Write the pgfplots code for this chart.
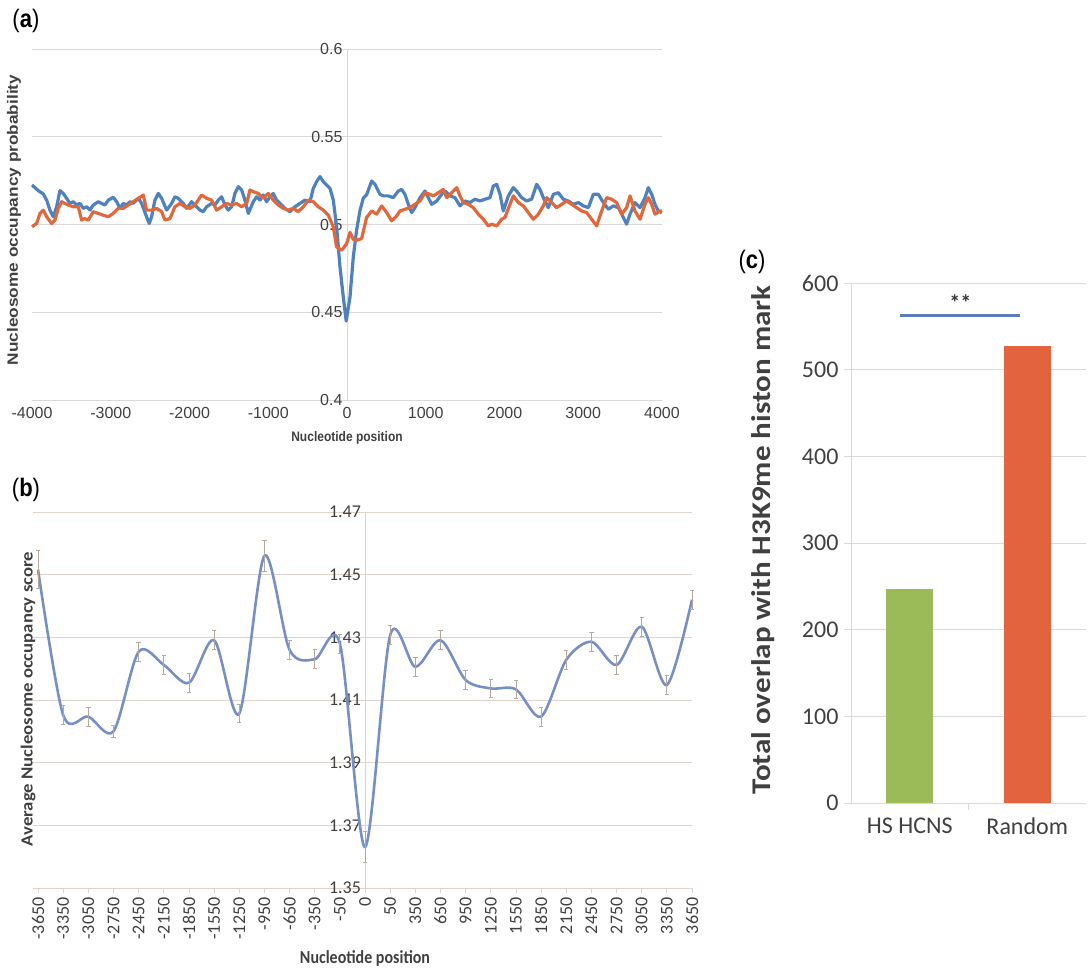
\documentclass[border=0pt]{standalone}
\usepackage{fontspec}
\setmainfont{Liberation Sans}
\newfontfamily\carlito{Carlito}
\usepackage{pgfplots}
\pgfplotsset{compat=1.18}
\usepackage{pgfplotstable}
\pgfplotsset{/pgf/number format/assume math mode=true}

\definecolor{gridc}{RGB}{217,217,217}
\definecolor{gridb}{RGB}{222,212,205}
\definecolor{tickc}{RGB}{64,64,64}
\definecolor{blueA}{RGB}{79,129,189}
\definecolor{orangeA}{RGB}{224,104,60}
\definecolor{blueB}{RGB}{118,143,196}
\definecolor{errc}{RGB}{180,168,158}
\definecolor{greenC}{RGB}{155,187,89}
\definecolor{orangeC}{RGB}{226,99,62}
\definecolor{sigc}{RGB}{91,125,180}

\pgfplotstableread{
x y
-4000 0.5225
-3920 0.5193
-3857 0.5174
-3814 0.5139
-3772 0.5082
-3730 0.5044
-3687 0.5101
-3645 0.5193
-3603 0.5177
-3560 0.5149
-3518 0.5120
-3476 0.5130
-3433 0.5111
-3391 0.5120
-3349 0.5092
-3306 0.5101
-3264 0.5082
-3222 0.5111
-3158 0.5130
-3116 0.5120
-3074 0.5111
-3031 0.5139
-2968 0.5155
-2925 0.5130
-2883 0.5092
-2841 0.5120
-2798 0.5111
-2756 0.5130
-2714 0.5120
-2650 0.5149
-2608 0.5120
-2545 0.5044
-2511 0.5006
-2481 0.5044
-2439 0.5139
-2396 0.5177
-2354 0.5149
-2290 0.5082
-2227 0.5120
-2185 0.5158
-2142 0.5149
-2079 0.5120
-2036 0.5092
-1973 0.5130
-1931 0.5111
-1867 0.5082
-1825 0.5073
-1783 0.5101
-1719 0.5120
-1677 0.5111
-1634 0.5139
-1592 0.5158
-1550 0.5111
-1507 0.5082
-1465 0.5101
-1423 0.5177
-1380 0.5216
-1338 0.5197
-1296 0.5139
-1253 0.5063
-1190 0.5130
-1148 0.5158
-1105 0.5139
-1063 0.5168
-1021 0.5130
-978 0.5158
-936 0.5177
-894 0.5139
-851 0.5120
-788 0.5092
-724 0.5073
-661 0.5101
-597 0.5120
-534 0.5139
-470 0.5130
-428 0.5206
-386 0.5244
-343 0.5273
-301 0.5244
-259 0.5225
-216 0.5206
-174 0.5139
-132 0.4987
-89 0.4758
-47 0.4586
-10 0.4450
38 0.4586
80 0.4815
122 0.4968
165 0.5080
207 0.5150
250 0.5170
313 0.5248
355 0.5229
419 0.5172
461 0.5163
525 0.5163
588 0.5153
652 0.5191
694 0.5200
736 0.5172
779 0.5115
821 0.5068
863 0.5096
927 0.5153
990 0.5191
1033 0.5153
1075 0.5115
1139 0.5134
1202 0.5172
1244 0.5191
1308 0.5163
1371 0.5153
1435 0.5106
1498 0.5134
1562 0.5125
1625 0.5144
1689 0.5134
1752 0.5144
1816 0.5153
1858 0.5219
1901 0.5229
1943 0.5172
1985 0.5077
2049 0.5163
2112 0.5210
2154 0.5191
2218 0.5153
2281 0.5134
2345 0.5144
2408 0.5229
2451 0.5200
2493 0.5153
2557 0.5096
2620 0.5172
2684 0.5181
2747 0.5144
2811 0.5134
2874 0.5115
2938 0.5125
3001 0.5106
3065 0.5096
3128 0.5172
3192 0.5172
3255 0.5125
3319 0.5087
3382 0.5106
3446 0.5096
3509 0.5040
3551 0.5002
3594 0.5059
3657 0.5125
3721 0.5096
3784 0.5153
3826 0.5210
3869 0.5172
3911 0.5115
3953 0.5077
4000 0.5068
}\blueAtab

\pgfplotstableread{
x y
-4000 0.4987
-3941 0.5006
-3899 0.5063
-3857 0.5082
-3814 0.5044
-3751 0.5006
-3709 0.5025
-3666 0.5092
-3624 0.5130
-3582 0.5120
-3539 0.5111
-3476 0.5101
-3412 0.5101
-3370 0.5025
-3328 0.5034
-3285 0.5025
-3222 0.5073
-3158 0.5063
-3095 0.5053
-3031 0.5044
-2968 0.5063
-2904 0.5092
-2841 0.5092
-2777 0.5111
-2714 0.5130
-2650 0.5149
-2587 0.5168
-2545 0.5082
-2481 0.5082
-2418 0.5092
-2354 0.5073
-2312 0.5025
-2248 0.5034
-2185 0.5101
-2121 0.5120
-2058 0.5101
-1994 0.5092
-1931 0.5111
-1846 0.5168
-1783 0.5149
-1719 0.5139
-1656 0.5082
-1592 0.5101
-1529 0.5120
-1465 0.5111
-1402 0.5120
-1338 0.5101
-1274 0.5120
-1232 0.5197
-1190 0.5187
-1127 0.5177
-1063 0.5149
-999 0.5177
-936 0.5139
-872 0.5111
-809 0.5092
-745 0.5082
-682 0.5092
-619 0.5073
-555 0.5101
-492 0.5139
-428 0.5130
-365 0.5101
-301 0.5082
-237 0.5053
-174 0.4987
-132 0.4872
-68 0.4853
-4 0.4891
38 0.4955
80 0.4915
122 0.4910
186 0.4920
249 0.5040
313 0.5077
377 0.5059
440 0.5106
504 0.5068
567 0.5021
631 0.5049
673 0.5077
736 0.5087
800 0.5096
863 0.5115
927 0.5134
990 0.5181
1054 0.5172
1096 0.5163
1160 0.5181
1223 0.5200
1266 0.5153
1329 0.5181
1393 0.5210
1435 0.5163
1477 0.5125
1541 0.5115
1604 0.5096
1668 0.5059
1731 0.5030
1795 0.4992
1837 0.5002
1901 0.4992
1964 0.5030
2006 0.5040
2070 0.5115
2112 0.5163
2176 0.5125
2239 0.5106
2303 0.5068
2366 0.5030
2430 0.5059
2493 0.5106
2536 0.5153
2599 0.5125
2662 0.5096
2726 0.5115
2789 0.5134
2853 0.5115
2916 0.5096
2980 0.5077
3043 0.5068
3107 0.5030
3170 0.4992
3234 0.5077
3297 0.5153
3361 0.5144
3424 0.5125
3488 0.5059
3551 0.5096
3594 0.5163
3657 0.5077
3721 0.5030
3784 0.5115
3826 0.5153
3869 0.5115
3911 0.5059
3975 0.5077
4000 0.5077
}\orangeAtab

\pgfplotstableread{
x y e
-13 1.4516 0.006
-12 1.4052 0.003
-11 1.4047 0.003
-10 1.4000 0.002
-9 1.4254 0.003
-8 1.4212 0.003
-7 1.4155 0.003
-6 1.4291 0.003
-5 1.4057 0.003
-4 1.4560 0.005
-3 1.4260 0.003
-2 1.4230 0.003
-1 1.4280 0.003
0 1.3631 0.005
1 1.4307 0.003
2 1.4206 0.003
3 1.4291 0.003
4 1.4164 0.003
5 1.4137 0.003
6 1.4134 0.003
7 1.4047 0.003
8 1.4228 0.003
9 1.4286 0.003
10 1.4212 0.003
11 1.4334 0.003
12 1.4148 0.003
13 1.4420 0.003
}\bTab

\begin{document}
\begin{tikzpicture}
\useasboundingbox (0pt,0pt) rectangle (1090pt,-969pt);

% ---------------- panel (a)
\begin{axis}[
  at={(32pt,-400pt)}, anchor=south west, scale only axis,
  width=630pt, height=351pt,
  xmin=-4000, xmax=4000, ymin=0.4, ymax=0.6,
  axis x line=bottom, axis y line=middle,
  axis line style={draw=gridc, line width=0.8pt, -},
  hide obscured x ticks=false, hide obscured y ticks=false,
  xtick={-4000,-3000,-2000,-1000,0,1000,2000,3000,4000},
  ytick={0.4,0.45,0.5,0.55,0.6},
  yticklabels={0.4,0.45,0.5,0.55,0.6},
  ymajorgrids, grid style={draw=gridc, line width=0.8pt},
  major tick length=0pt,
  /pgf/number format/1000 sep={},
  tick label style={font=\fontsize{16}{16}\selectfont, text=tickc},
  xticklabel style={yshift=-4pt},
  yticklabel style={xshift=-1pt},
  clip=false,
]
\addplot[blueA, line width=3.2pt, line join=round] table[x=x,y=y]{\blueAtab};
\addplot[orangeA, line width=3.2pt, line join=round] table[x=x,y=y]{\orangeAtab};
\end{axis}

% ---------------- panel (b)
\begin{axis}[
  at={(33pt,-888pt)}, anchor=south west, scale only axis,
  width=659pt, height=376pt,
  xmin=-13.2, xmax=13.0, ymin=1.35, ymax=1.47,
  axis x line=bottom, axis y line=middle,
  axis line style={draw=gridb, line width=0.8pt, -},
  hide obscured x ticks=false, hide obscured y ticks=false,
  xtick={-13,-12,...,13},
  xticklabels={-3650,-3350,-3050,-2750,-2450,-2150,-1850,-1550,-1250,-950,-650,-350,-50,0,50,350,650,950,1250,1550,1850,2150,2450,2750,3050,3350,3650},
  ytick={1.35,1.37,1.39,1.41,1.43,1.45,1.47},
  yticklabels={1.35,1.37,1.39,1.41,1.43,1.45,1.47},
  ymajorgrids, grid style={draw=gridb, line width=0.8pt},
  xtick align=outside,
  major tick length=5pt,
  ytick style={draw=none},
  xtick style={draw=gridb, line width=0.8pt},
  tick label style={font=\carlito\fontsize{18}{18}\selectfont, text=tickc},
  xticklabel style={rotate=90, anchor=east, xshift=-1pt},
  yticklabel style={xshift=2pt},
  clip=false,
]
\addplot[blueB, line width=2.6pt, smooth, tension=0.5,
  error bars/.cd, y dir=both, y explicit,
  error bar style={errc, line width=0.8pt},
  error mark options={errc, rotate=90, mark size=2.2pt, line width=0.8pt}]
  table[x=x, y=y, y error=e]{\bTab};
\end{axis}

% ---------------- panel (c)
\begin{axis}[
  at={(851pt,-803pt)}, anchor=south west, scale only axis,
  width=235pt, height=520pt,
  xmin=0.5, xmax=2.5, ymin=0, ymax=600,
  axis x line=bottom, axis y line=left,
  axis line style={draw=gridc, line width=0.9pt, -},
  xtick={1,2}, xticklabels={HS HCNS, Random},
  ytick={0,100,200,300,400,500,600},
  ymajorgrids, grid style={draw=gridc, line width=0.9pt},
  xtick style={draw=none},
  ytick align=outside, ytick style={draw=gridc, line width=0.9pt},
  major tick length=7pt,
  tick label style={font=\carlito\fontsize{24}{24}\selectfont, text=tickc},
  yticklabel style={xshift=-2pt},
  xticklabel style={yshift=-8pt},
  clip=false,
]
\addplot[ybar, bar width=47pt, bar shift=0pt, fill=greenC, draw=none] coordinates {(1,247)};
\addplot[ybar, bar width=47pt, bar shift=0pt, fill=orangeC, draw=none] coordinates {(2,527)};
\addplot[sharp plot, sigc, line width=3pt] coordinates {(0.92,562) (1.94,562)};
\node[font=\carlito\bfseries\fontsize{22}{22}\selectfont, text=black!80] at (axis cs:1.43,577) {**};
\draw[gridc, line width=0.9pt] (axis cs:1.5,0) -- ([yshift=-7pt]axis cs:1.5,0);
\end{axis}

% ---------------- labels
\node at (26pt,-21pt) {\scalebox{1}[1.15]{\fontsize{22}{22}\selectfont (\textbf{a})}};
\node at (26pt,-490pt) {\scalebox{1}[1.15]{\fontsize{22}{22}\selectfont (\textbf{b})}};
\node at (752pt,-262pt) {\scalebox{1}[1.15]{\fontsize{22}{22}\selectfont (\textbf{c})}};

\node[rotate=90, text=tickc] at (14pt,-220pt) {\scalebox{1.15}[1]{\fontsize{15}{15}\selectfont\bfseries Nucleosome occupancy probability}};
\node[text=tickc] at (347pt,-438pt) {\scalebox{1}[1.15]{\fontsize{12}{12}\selectfont\bfseries Nucleotide position}};

\node[rotate=90, text=tickc] at (28pt,-699pt) {\scalebox{1.1}[1]{\carlito\fontsize{17}{17}\selectfont\bfseries Average Nucleosome occupancy score}};
\node[text=tickc] at (365pt,-958pt) {\scalebox{1}[1.15]{\carlito\fontsize{16}{16}\selectfont\bfseries Nucleotide position}};

\node[rotate=90, text=tickc] at (763pt,-540pt) {\scalebox{1.15}[1]{\carlito\fontsize{27}{27}\selectfont\bfseries Total overlap with H3K9me histon mark}};
\end{tikzpicture}
\end{document}
